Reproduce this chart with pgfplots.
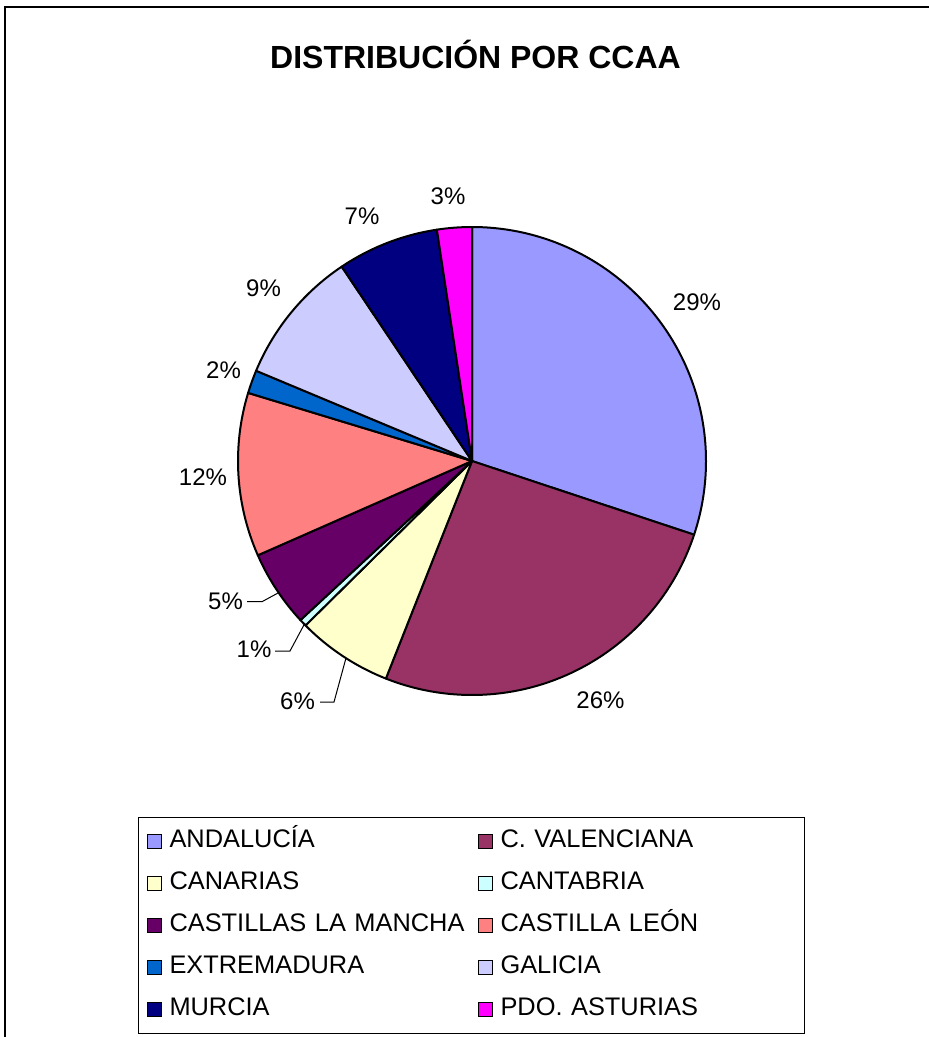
\documentclass[border=0pt]{standalone}
\usepackage{pgfplots}
\pgfplotsset{compat=1.18}
\usepackage{pgfplotstable}
\usepackage{fontspec}
\setmainfont{Liberation Sans}

\definecolor{c0}{HTML}{9999FF}
\definecolor{c1}{HTML}{993366}
\definecolor{c2}{HTML}{FFFFCC}
\definecolor{c3}{HTML}{CCFFFF}
\definecolor{c4}{HTML}{660066}
\definecolor{c5}{HTML}{FF8080}
\definecolor{c6}{HTML}{0066CC}
\definecolor{c7}{HTML}{CCCCFF}
\definecolor{c8}{HTML}{000080}
\definecolor{c9}{HTML}{FF00FF}

% value = share of the pie, pct = printed label, lx/ly = label position
\pgfplotstableread{
value pct lx ly
30.1 29 225 159.5
25.9 26 128.5 -238.5
6.6 6 -174.5 -240
0.5 1 -218 -188
5.3 5 -246.5 -139.5
11.3 12 -269 -16
1.6 2 -248.5 91.5
9.3 9 -208.5 173.5
7.0 7 -110 245
2.4 3 -24 265.5
}\piedata

\begin{document}
\begin{tikzpicture}[x=0.5pt,y=-0.5pt]
\useasboundingbox (0,0) rectangle (928,1037);
\xdef\cumsum{0}%
\foreach \i in {0,...,9}{%
  \pgfplotstablegetelem{\i}{value}\of\piedata
  \pgfmathsetmacro\v{\pgfplotsretval}%
  \pgfmathsetmacro\sa{90-3.6*\cumsum}%
  \pgfmathsetmacro\nc{\cumsum+\v}%
  \pgfmathsetmacro\ea{90-3.6*\nc}%
  \expandafter\xdef\csname sA\i\endcsname{\sa}%
  \expandafter\xdef\csname eA\i\endcsname{\ea}%
  \xdef\cumsum{\nc}%
  \pgfplotstablegetelem{\i}{lx}\of\piedata
  \expandafter\xdef\csname lx\i\endcsname{\pgfplotsretval}%
  \pgfplotstablegetelem{\i}{ly}\of\piedata
  \expandafter\xdef\csname ly\i\endcsname{\pgfplotsretval}%
  \pgfplotstablegetelem{\i}{pct}\of\piedata
  \expandafter\xdef\csname pc\i\endcsname{\pgfplotsretval}%
}%
% outer frame
\draw[line width=1pt] (5,1100) -- (5,7) -- (1000,7);
% title
\node[anchor=base, inner sep=0pt, font=\bfseries\fontsize{16}{19}\selectfont] at (475.5,68.5) {DISTRIBUCIÓN POR CCAA};
\begin{axis}[
  at={(236pt,-230.5pt)}, anchor=center,
  x=0.5pt, y=0.5pt,
  xmin=-250, xmax=250, ymin=-250, ymax=250,
  hide axis, clip=false,
  legend image code/.code={\draw[#1,draw=black,line width=0.5pt] (0pt,-3.8pt) rectangle (7pt,3.5pt);},
  legend cell align=left,
  legend columns=2,
  legend style={
    at={(axis description cs:-0.168,-0.212)}, anchor=north west,
    draw=black, line width=0.5pt, inner xsep=4pt, inner ysep=6pt,
    font=\fontsize{12.7}{15}\selectfont,
    row sep=9.2pt,
    /tikz/every odd column/.append style={column sep=4pt},
    /tikz/every even column/.append style={column sep=6pt},
    nodes={inner sep=0pt, text height=9.2pt, text depth=2.6pt, text width=148pt},
  },
]
\pgfplotsinvokeforeach{0,...,9}{%
  \filldraw[fill=c#1, draw=black, line width=1pt, line join=round]
    (axis cs:0,0) -- ++(\csname sA#1\endcsname:117pt)
    arc[start angle=\csname sA#1\endcsname, end angle=\csname eA#1\endcsname, radius=117pt] -- cycle;
  \node[font=\fontsize{12}{14}\selectfont, inner sep=0pt, text height=8.6pt, text depth=0pt]
    at (axis cs:\csname lx#1\endcsname,\csname ly#1\endcsname) {\csname pc#1\endcsname\%};
}
% leader lines
\draw[line width=0.5pt] (axis cs:-194,-132) -- (axis cs:-210,-140.7) -- (axis cs:-225,-140.7);
\draw[line width=0.5pt] (axis cs:-167,-162) -- (axis cs:-182,-190) -- (axis cs:-197,-190);
\draw[line width=0.5pt] (axis cs:-126,-197) -- (axis cs:-138,-241) -- (axis cs:-152,-241);
\addlegendimage{fill=c0}\addlegendentry{ANDALUCÍA}
\addlegendimage{fill=c1}\addlegendentry{C. VALENCIANA}
\addlegendimage{fill=c2}\addlegendentry{CANARIAS}
\addlegendimage{fill=c3}\addlegendentry{CANTABRIA}
\addlegendimage{fill=c4}\addlegendentry{CASTILLAS LA MANCHA}
\addlegendimage{fill=c5}\addlegendentry{CASTILLA LEÓN}
\addlegendimage{fill=c6}\addlegendentry{EXTREMADURA}
\addlegendimage{fill=c7}\addlegendentry{GALICIA}
\addlegendimage{fill=c8}\addlegendentry{MURCIA}
\addlegendimage{fill=c9}\addlegendentry{PDO. ASTURIAS}
\end{axis}
\end{tikzpicture}
\end{document}
